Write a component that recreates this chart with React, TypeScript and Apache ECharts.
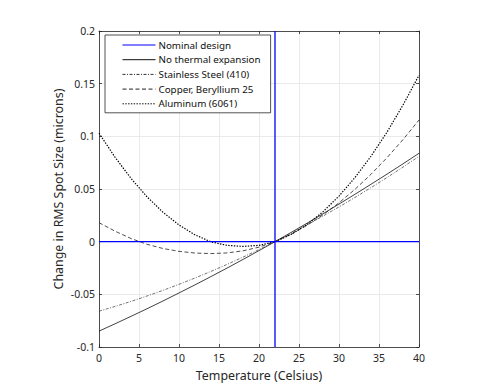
import React, { useEffect, useRef } from "react";
import * as echarts from "echarts";

const temperatures = [0, 2, 4, 6, 8, 10, 12, 14, 16, 18, 20, 22, 24, 26, 28, 30, 32, 34, 36, 38, 40];
const noExpansion = [-0.0849, -0.078, -0.0709, -0.0637, -0.0563, -0.0487, -0.041, -0.0331, -0.0251, -0.0169, -0.0085, 0, 0.0087, 0.0175, 0.0265, 0.0357, 0.045, 0.0545, 0.0641, 0.0739, 0.0839];
const stainlessSteel = [-0.066, -0.0615, -0.0567, -0.0516, -0.0462, -0.0405, -0.0345, -0.0282, -0.0216, -0.0147, -0.0075, 0, 0.0078, 0.0159, 0.0243, 0.033, 0.042, 0.0513, 0.0609, 0.0708, 0.081];
const copperBeryllium = [0.018, 0.01, 0.003, -0.0025, -0.0065, -0.0092, -0.0108, -0.0113, -0.0107, -0.0087, -0.0052, 0, 0.007, 0.0155, 0.0255, 0.0369, 0.0497, 0.064, 0.0797, 0.0969, 0.1155];
const aluminum = [0.103, 0.0802, 0.0601, 0.0426, 0.0279, 0.0158, 0.0065, -0.0002, -0.0035, -0.0045, -0.0035, 0, 0.0068, 0.0163, 0.0284, 0.0433, 0.0609, 0.0811, 0.104, 0.1297, 0.158];
const nominalTemperature = 22;
const nominalChange = 0;
const xRange = [0, 40];
const yRange = [-0.1, 0.2];
const seriesNames = ["Nominal design", "No thermal expansion", "Stainless Steel (410)", "Copper, Beryllium 25", "Aluminum (6061)"];

const FONT = "Noto Sans";
const TEXT = "#262626";
const BLUE = "#0000ff";

const pairs = (vals: number[]) => temperatures.map((t, i) => [t, vals[i]]);

export default function App() {
  const ref = useRef<HTMLDivElement>(null);
  useEffect(() => {
    if (!ref.current) return;
    const chart = echarts.init(ref.current, null, { renderer: "svg" });
    const axisCommon = {
      axisLine: { show: true, onZero: false, lineStyle: { color: TEXT, width: 0.8 } },
      axisTick: { show: true, inside: true, length: 3, lineStyle: { color: TEXT, width: 0.8 } },
    };
    const curve = (name: string, vals: number[], type: any, width: number, color: string) => ({
      name,
      type: "line",
      data: pairs(vals),
      showSymbol: false,
      symbol: "none",
      lineStyle: { color, width, type },
      itemStyle: { color },
      z: 2,
    });
    const nominal = (data: number[][]) => ({
      name: seriesNames[0],
      type: "line",
      data,
      showSymbol: false,
      symbol: "none",
      lineStyle: { color: BLUE, width: 1.3, type: "solid" },
      itemStyle: { color: BLUE },
      z: 3,
    });
    chart.setOption({
      animation: false,
      backgroundColor: "#fff",
      textStyle: { fontFamily: FONT, color: TEXT },
      grid: { left: 99, right: 81, top: 31, bottom: 44, containLabel: false },
      legend: {
        orient: "vertical",
        left: 105,
        top: 35,
        data: seriesNames,
        itemWidth: 33,
        itemHeight: 10,
        itemGap: 4.7,
        padding: [5, 10, 4, 17],
        borderColor: TEXT,
        borderWidth: 0.8,
        backgroundColor: "#fff",
        itemStyle: { opacity: 0 },
        lineStyle: { width: 1, color: "inherit", type: "inherit" },
        textStyle: { fontFamily: FONT, fontSize: 9.8, color: "#111", padding: [0, 0, 0, -2] },
      },
      xAxis: [
        {
          type: "value",
          min: xRange[0],
          max: xRange[1],
          interval: 5,
          name: "Temperature (Celsius)",
          nameLocation: "middle",
          nameGap: 22,
          nameMoveOverlap: false,
          nameTextStyle: { fontFamily: FONT, fontSize: 12.4, color: TEXT, verticalAlign: "top" },
          axisLabel: { fontFamily: FONT, fontSize: 10.5, color: TEXT, margin: 5 },
          splitLine: { show: true, lineStyle: { color: "#e4e4e4", width: 0.8 } },
          ...axisCommon,
        },
        {
          type: "value",
          position: "top",
          min: xRange[0],
          max: xRange[1],
          interval: 5,
          axisLabel: { show: false },
          splitLine: { show: false },
          ...axisCommon,
        },
      ],
      yAxis: [
        {
          type: "value",
          min: yRange[0],
          max: yRange[1],
          interval: 0.05,
          name: "Change in RMS Spot Size (microns)",
          nameLocation: "middle",
          nameGap: 35,
          nameMoveOverlap: false,
          nameRotate: 90,
          nameTextStyle: { fontFamily: FONT, fontSize: 12.4, color: TEXT },
          axisLabel: {
            fontFamily: FONT,
            fontSize: 10.5,
            color: TEXT,
            margin: 4,
            formatter: (v: number) => String(Math.round(v * 100) / 100),
          },
          splitLine: { show: true, lineStyle: { color: "#e4e4e4", width: 0.8 } },
          ...axisCommon,
        },
        {
          type: "value",
          position: "right",
          min: yRange[0],
          max: yRange[1],
          interval: 0.05,
          axisLabel: { show: false },
          splitLine: { show: false },
          ...axisCommon,
        },
      ],
      series: [
        nominal([[xRange[0], nominalChange], [xRange[1], nominalChange]]),
        nominal([[nominalTemperature, yRange[0]], [nominalTemperature, yRange[1]]]),
        curve(seriesNames[1], noExpansion, "solid", 0.8, "#111"),
        curve(seriesNames[2], stainlessSteel, [3, 1.5, 1, 1.5], 0.7, "#333"),
        curve(seriesNames[3], copperBeryllium, [4, 2.5], 0.8, "#222"),
        curve(seriesNames[4], aluminum, [1.4, 1.4], 1.2, "#000"),
      ],
    });
    return () => chart.dispose();
  }, []);
  return <div ref={ref} style={{ position: "fixed", left: 0, top: 0, width: 500, height: 391 }} />;
}
